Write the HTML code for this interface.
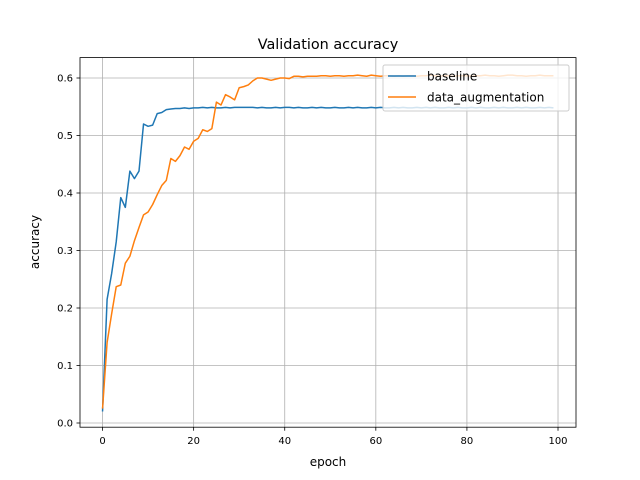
<!DOCTYPE html>
<html><head><meta charset="utf-8"><style>
body{margin:0;background:#fff}
svg{display:block;font-family:"DejaVu Sans","Liberation Sans",sans-serif}
</style></head><body>
<svg id="chart" width="640" height="480">
<rect width="640" height="480" fill="#fff"/>
<text x="328" y="49" font-size="14.4" text-anchor="middle">Validation accuracy</text>
<g id="grid"></g><g id="series"></g><g id="axes"></g>
<text x="328" y="466" font-size="12" text-anchor="middle">epoch</text>
<text transform="translate(39,242) rotate(-90)" font-size="12" text-anchor="middle">accuracy</text>
<g>
<rect x="383" y="65" width="186" height="46" rx="2" fill="#fff" fill-opacity="0.8" stroke="#ccc"/>
<line x1="388" y1="76" x2="416" y2="76" stroke="#1f77b4" stroke-width="1.5"/>
<text x="427" y="80.5" font-size="12">baseline</text>
<line x1="388" y1="97" x2="416" y2="97" stroke="#ff7f0e" stroke-width="1.5"/>
<text x="427" y="101.5" font-size="12">data_augmentation</text>
</g>
</svg>
<script>
const xTicks=[0,20,40,60,80,100];
const yTicks=[0.0,0.1,0.2,0.3,0.4,0.5,0.6];
const baseline=[0.02,0.215,0.26,0.315,0.392,0.375,0.438,0.425,0.438,0.52,0.516,0.518,0.538,0.54,0.545,0.546,0.547,0.547,0.548,0.547,0.548,0.548,0.549,0.548,0.549,0.548,0.548,0.549,0.548,0.549,0.549,0.549,0.549,0.549,0.548,0.549,0.548,0.548,0.549,0.548,0.549,0.549,0.548,0.549,0.548,0.548,0.549,0.548,0.549,0.548,0.548,0.549,0.548,0.548,0.549,0.548,0.549,0.548,0.548,0.549,0.548,0.549,0.548,0.548,0.549,0.548,0.549,0.548,0.548,0.549,0.548,0.549,0.548,0.549,0.548,0.548,0.549,0.548,0.549,0.548,0.548,0.549,0.548,0.549,0.548,0.548,0.549,0.548,0.549,0.548,0.548,0.549,0.548,0.549,0.548,0.548,0.549,0.548,0.549,0.548];
const dataAug=[0.025,0.14,0.19,0.237,0.24,0.278,0.29,0.317,0.34,0.362,0.367,0.38,0.397,0.413,0.422,0.46,0.455,0.465,0.48,0.476,0.49,0.495,0.51,0.507,0.512,0.558,0.553,0.571,0.567,0.562,0.583,0.585,0.588,0.595,0.6,0.6,0.598,0.596,0.598,0.6,0.6,0.599,0.603,0.603,0.602,0.603,0.603,0.603,0.604,0.604,0.603,0.604,0.604,0.603,0.604,0.604,0.605,0.604,0.603,0.605,0.604,0.603,0.604,0.604,0.603,0.604,0.603,0.604,0.604,0.603,0.604,0.604,0.605,0.604,0.603,0.604,0.604,0.603,0.604,0.604,0.604,0.603,0.604,0.604,0.605,0.604,0.604,0.603,0.604,0.605,0.605,0.604,0.604,0.603,0.604,0.604,0.605,0.604,0.604,0.604];
const NS="http://www.w3.org/2000/svg";
const L=80,R=576,T=57.6,B=427.2;
const xs=v=>L+(v+4.95)*(R-L)/108.9;
const ys=v=>423-v*575;
function mk(tag,attrs,parent){const e=document.createElementNS(NS,tag);for(const k in attrs)e.setAttribute(k,attrs[k]);document.getElementById(parent).appendChild(e);return e;}
xTicks.forEach(t=>{const x=xs(t);
 let g=mk('line',{x1:x,x2:x,y1:T,y2:B,stroke:'#b0b0b0','stroke-width':0.8},'grid');
 
 
 let k=mk('line',{x1:x,x2:x,y1:B,y2:B+3.5,stroke:'#000','stroke-width':0.8},'axes');
 
 
 let l=mk('text',{x:x,y:B+17,'font-size':10,'text-anchor':'middle'},'axes');l.textContent=t;
 
 
});
yTicks.forEach(t=>{const y=ys(t);
 let g=mk('line',{x1:L,x2:R,y1:y,y2:y,stroke:'#b0b0b0','stroke-width':0.8},'grid');
 
 
 let k=mk('line',{x1:L-3.5,x2:L,y1:y,y2:y,stroke:'#000','stroke-width':0.8},'axes');
 
 
 let l=mk('text',{x:L-7,y:y+3.5,'font-size':10,'text-anchor':'end'},'axes');l.textContent=t.toFixed(1);
 
 
});
let fr=mk('rect',{x:L,y:T,width:R-L,height:B-T,fill:'none',stroke:'#000','stroke-width':0.8},'axes');


function line(d,c,name){const p=mk('polyline',{points:d.map((v,i)=>xs(i)+','+ys(v)).join(' '),fill:'none',stroke:c,'stroke-width':1.5,'stroke-linejoin':'round'},'series');
 
 }
line(baseline,'#1f77b4','baseline-line');
line(dataAug,'#ff7f0e','data-augmentation-line');
</script>
</body></html>
